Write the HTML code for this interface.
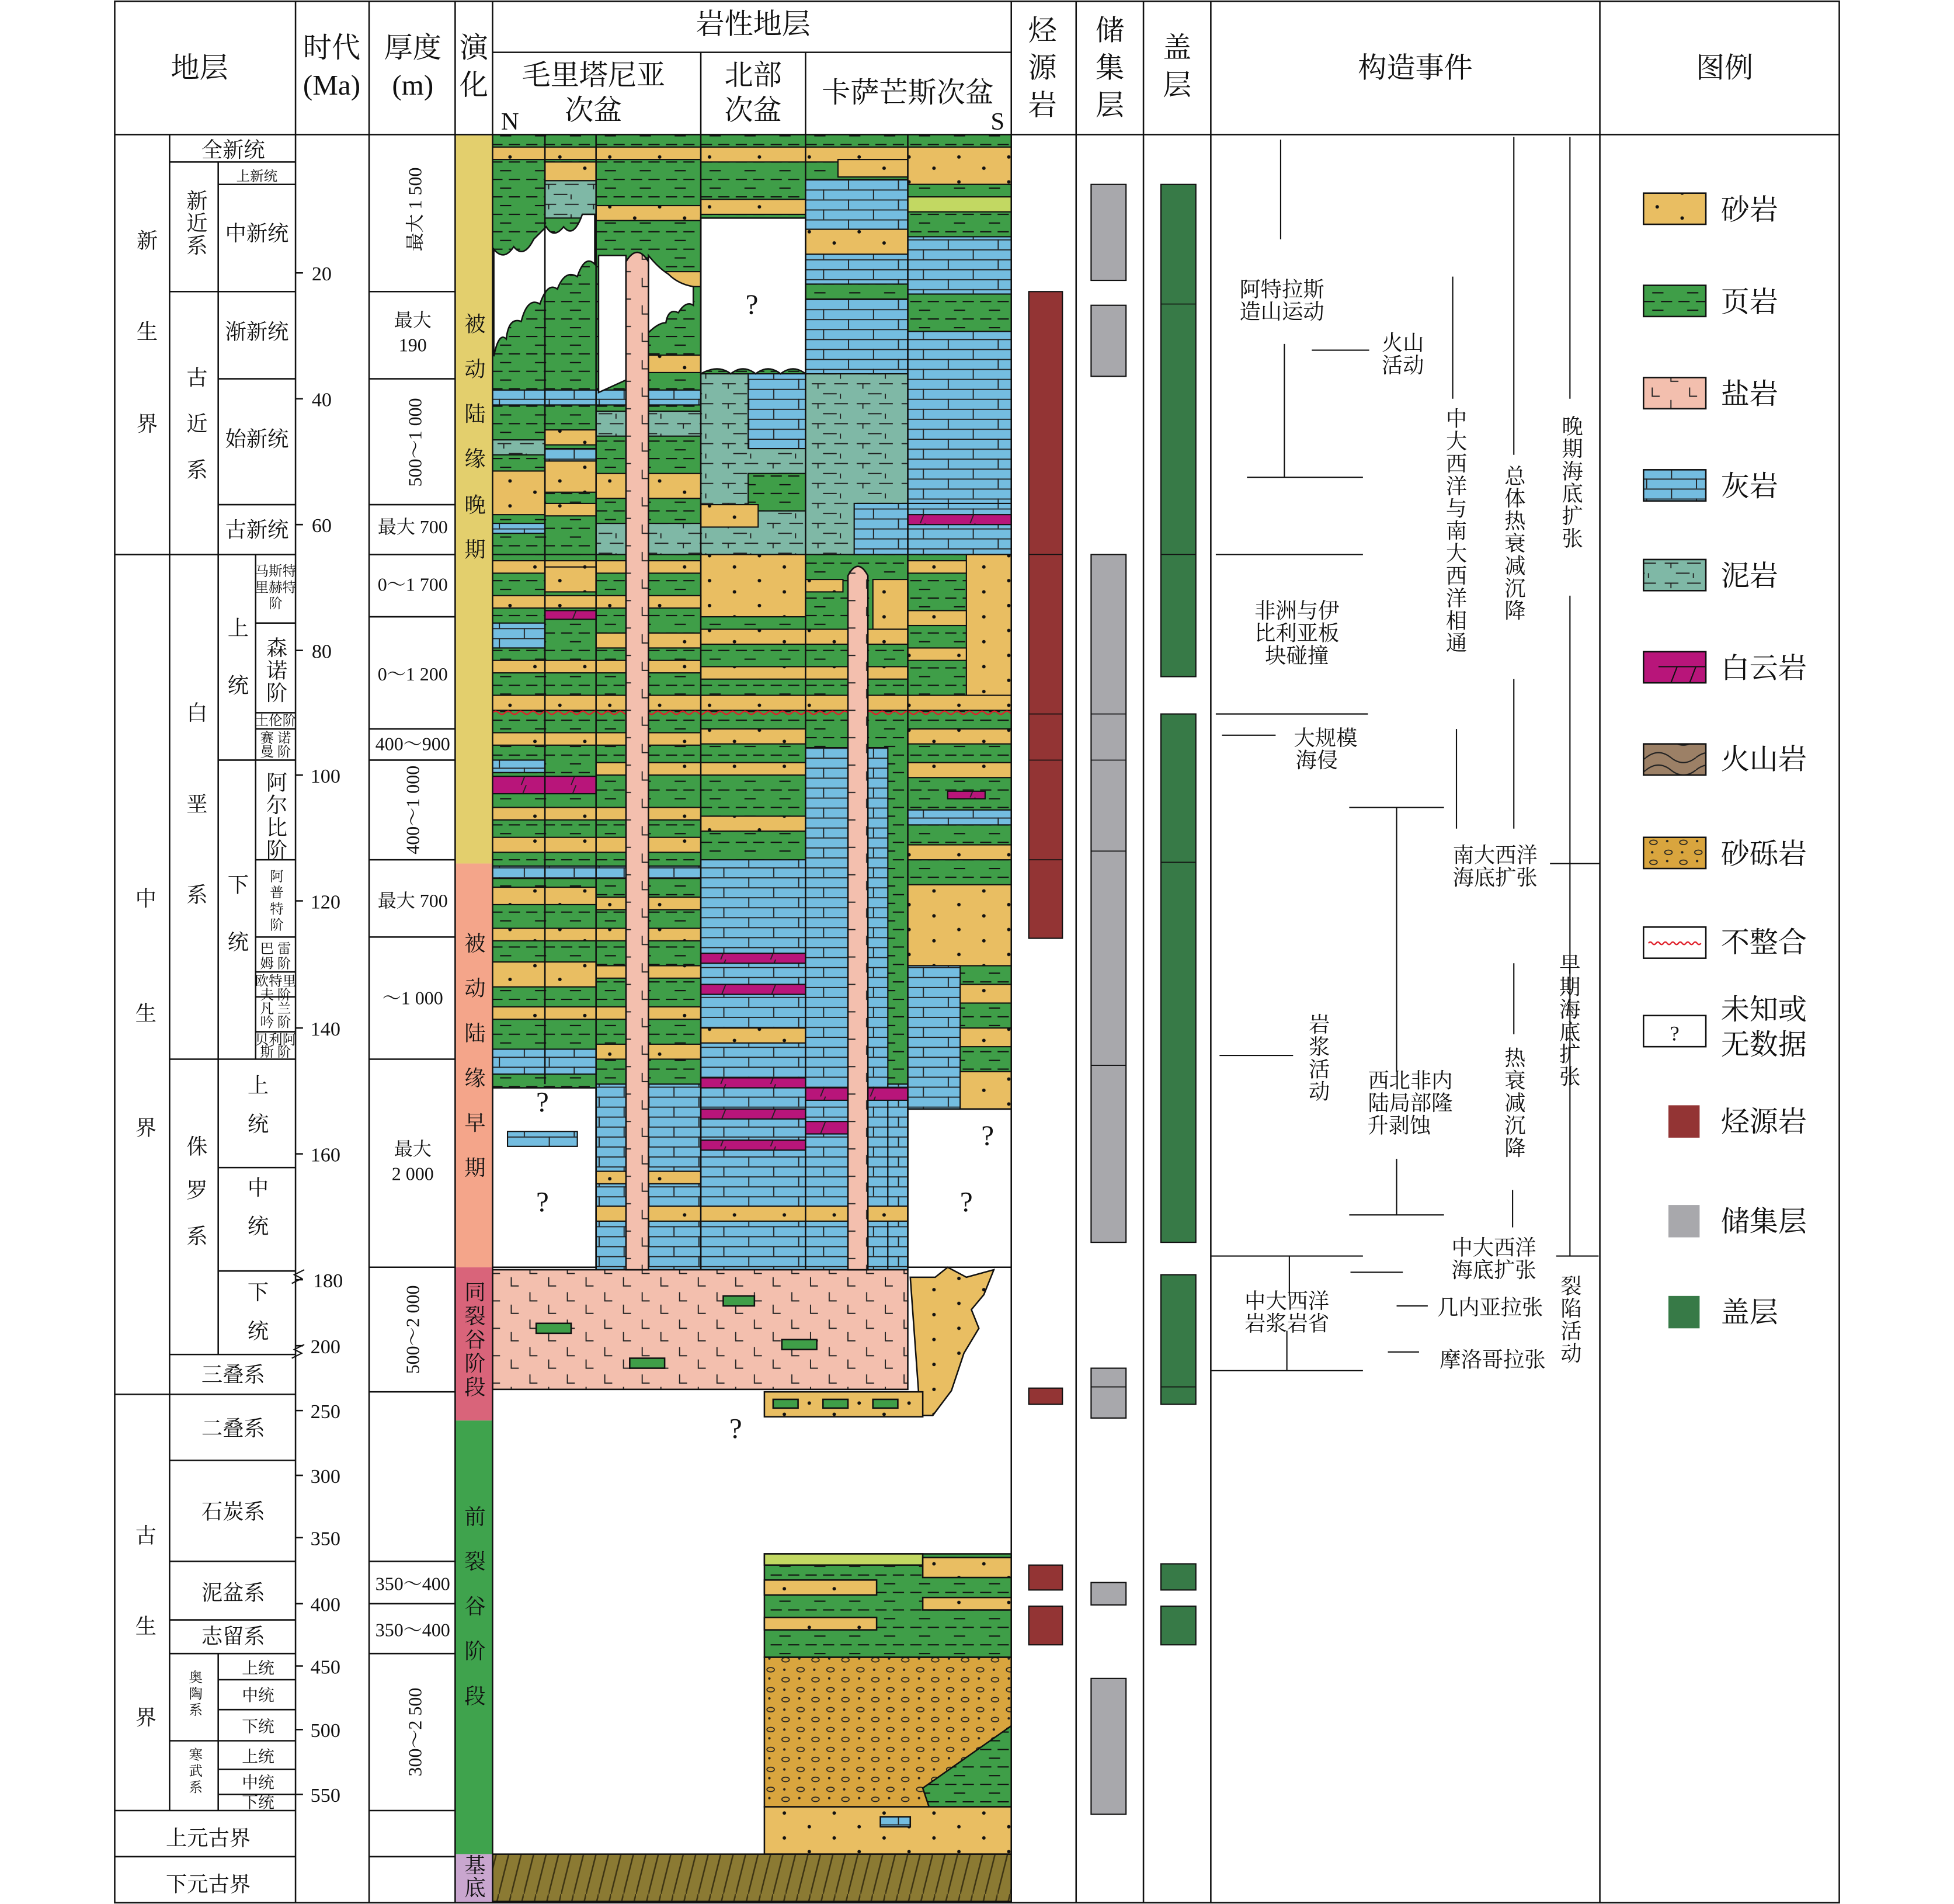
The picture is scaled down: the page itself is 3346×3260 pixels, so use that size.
<!DOCTYPE html>
<html><head><meta charset="utf-8">
<style>
html,body{margin:0;padding:0;background:#fff;}
#wrap{width:3346px;height:3260px;overflow:hidden;position:relative;}
svg{position:absolute;left:0;top:0;}
text{font-family:"Liberation Serif","Noto Serif CJK SC",serif;fill:#111;}
.h{font-size:23px;text-anchor:middle;}
.m{font-size:17px;text-anchor:middle;}
.s{font-size:15px;text-anchor:middle;}
.xs{font-size:11px;text-anchor:middle;}
.t{font-size:16px;}
.lg{font-size:23px;}
</style></head><body>
<div id="wrap">
<svg width="3346" height="3260" viewBox="0 0 1567 1528" preserveAspectRatio="none">
<defs>
<clipPath id="lc"><rect x="395" y="0" width="416" height="1528"/></clipPath>
<pattern id="sand" width="40" height="20" patternUnits="userSpaceOnUse"><rect width="40" height="20" fill="#e9be62"/><circle cx="9" cy="6" r="1.4" fill="#111"/><circle cx="29" cy="15" r="1.4" fill="#111"/></pattern>
<pattern id="shale" width="28" height="14" patternUnits="userSpaceOnUse"><rect width="28" height="14" fill="#3f9e48"/><path d="M2 4h9M16 4h9M9 11h9" stroke="#111" stroke-width="1"/></pattern>
<pattern id="lime" width="40" height="16" patternUnits="userSpaceOnUse"><rect width="40" height="16" fill="#74bde0"/><path d="M0 0.5h40M0 8.5h40M0.5 0v8M20.5 8v8" stroke="#222" stroke-width="0.9"/></pattern>
<pattern id="mud" width="36" height="16" patternUnits="userSpaceOnUse"><rect width="36" height="16" fill="#7fb8a6"/><path d="M3 4h11M21 4h11M12 12h11M8 4v4M26 12v4" stroke="#222" stroke-width="0.9"/></pattern>
<pattern id="salt" width="30" height="22" patternUnits="userSpaceOnUse"><rect width="30" height="22" fill="#f3bfae"/><path d="M5 3v7h6M20 13v7h6" stroke="#222" stroke-width="0.9" fill="none"/></pattern>
<pattern id="dol" width="40" height="10" patternUnits="userSpaceOnUse"><rect width="40" height="10" fill="#b8157a"/><path d="M18 10l4-10" stroke="#222" stroke-width="0.9"/></pattern>
<pattern id="cong" width="24" height="16" patternUnits="userSpaceOnUse"><rect width="24" height="16" fill="#d9a53e"/><ellipse cx="6" cy="4" rx="3" ry="1.8" fill="none" stroke="#222" stroke-width="0.8"/><ellipse cx="18" cy="12" rx="3" ry="1.8" fill="none" stroke="#222" stroke-width="0.8"/><circle cx="17" cy="3" r="1" fill="#222"/><circle cx="5" cy="12" r="1" fill="#222"/></pattern>
<pattern id="base" width="10" height="40" patternUnits="userSpaceOnUse"><rect width="10" height="40" fill="#8b7a33"/><path d="M0 40L10 0" stroke="#3d3414" stroke-width="1.2"/></pattern>
<pattern id="volc" width="40" height="24" patternUnits="userSpaceOnUse"><rect width="40" height="24" fill="#9c8066"/><path d="M0 8q10-8 20 0t20 0M0 18q10-8 20 0t20 0" stroke="#222" fill="none"/></pattern>
</defs>

<g stroke="#111" stroke-width="1">
<rect x="395" y="108" width="416" height="337" fill="url(#shale)"/>
<rect x="728" y="118" width="83" height="30" fill="url(#sand)"/>
<rect x="728" y="148" width="83" height="10" fill="url(#shale)"/>
<rect x="728" y="158" width="83" height="12" fill="#c2d862"/>
<rect x="728" y="190" width="83" height="255" fill="url(#lime)"/>
<rect x="728" y="236" width="83" height="30" fill="url(#shale)"/>
<rect x="728" y="404" width="83" height="10" fill="url(#lime)"/>
<rect x="728" y="413" width="83" height="8" fill="url(#dol)"/>
<rect x="646" y="118" width="82" height="12" fill="url(#sand)"/>
<rect x="672" y="128" width="56" height="14" fill="url(#sand)"/>
<rect x="646" y="144" width="82" height="156" fill="url(#lime)"/>
<rect x="646" y="184" width="82" height="20" fill="url(#sand)"/>
<rect x="646" y="228" width="82" height="12" fill="url(#shale)"/>
<rect x="646" y="300" width="82" height="145" fill="url(#mud)"/>
<rect x="685" y="404" width="43" height="41" fill="url(#lime)"/>
<rect x="562" y="118" width="84" height="12" fill="url(#sand)"/>
<rect x="562" y="160" width="84" height="12" fill="url(#sand)"/>
<rect x="562" y="300" width="84" height="145" fill="url(#mud)"/>
<rect x="600" y="300" width="46" height="60" fill="url(#lime)"/>
<rect x="600" y="380" width="46" height="30" fill="url(#shale)"/>
<rect x="562" y="405" width="46" height="18" fill="url(#sand)"/>
<rect x="395" y="118" width="167" height="10" fill="url(#sand)"/>
<rect x="437" y="130" width="41" height="15" fill="url(#sand)"/>
<rect x="437" y="145" width="41" height="30" fill="url(#mud)"/>
<rect x="478" y="165" width="84" height="12" fill="url(#sand)"/>
<rect x="437" y="195" width="41" height="10" fill="url(#sand)"/>
<rect x="520" y="218" width="42" height="12" fill="url(#sand)"/>
<rect x="520" y="285" width="42" height="14" fill="url(#sand)"/>
<rect x="395" y="313" width="167" height="12" fill="url(#lime)"/>
<rect x="478" y="330" width="84" height="20" fill="url(#mud)"/>
<rect x="437" y="345" width="41" height="12" fill="url(#sand)"/>
<rect x="395" y="353" width="42" height="12" fill="url(#mud)"/>
<rect x="437" y="360" width="41" height="10" fill="url(#lime)"/>
<rect x="395" y="378" width="42" height="35" fill="url(#sand)"/>
<rect x="437" y="370" width="41" height="25" fill="url(#sand)"/>
<rect x="478" y="380" width="84" height="20" fill="url(#sand)"/>
<rect x="437" y="404" width="41" height="10" fill="url(#sand)"/>
<rect x="395" y="420" width="42" height="8" fill="url(#lime)"/>
<rect x="478" y="420" width="84" height="25" fill="url(#mud)"/>
<rect x="395" y="445" width="416" height="428" fill="url(#shale)"/>
</g>
<g stroke="#111" stroke-width="1">
<rect x="395" y="450" width="167" height="10" fill="url(#sand)"/>
<rect x="437" y="455" width="41" height="20" fill="url(#sand)"/>
<rect x="562" y="445" width="84" height="50" fill="url(#sand)"/>
<rect x="728" y="450" width="83" height="10" fill="url(#sand)"/>
<rect x="775" y="445" width="36" height="115" fill="url(#sand)"/>
<rect x="646" y="465" width="30" height="10" fill="url(#sand)"/>
<rect x="700" y="465" width="28" height="40" fill="url(#sand)"/>
<rect x="395" y="478" width="167" height="10" fill="url(#sand)"/>
<rect x="437" y="490" width="41" height="7" fill="url(#dol)"/>
<rect x="395" y="500" width="42" height="20" fill="url(#lime)"/>
<rect x="478" y="508" width="84" height="12" fill="url(#sand)"/>
<rect x="562" y="505" width="166" height="12" fill="url(#sand)"/>
<rect x="728" y="490" width="47" height="12" fill="url(#sand)"/>
<rect x="728" y="520" width="47" height="10" fill="url(#sand)"/>
<rect x="395" y="530" width="167" height="10" fill="url(#sand)"/>
<rect x="562" y="535" width="166" height="10" fill="url(#sand)"/>
<rect x="395" y="558" width="416" height="12" fill="url(#sand)"/>
<rect x="395" y="588" width="167" height="10" fill="url(#sand)"/>
<rect x="562" y="585" width="84" height="12" fill="url(#sand)"/>
<rect x="728" y="585" width="83" height="12" fill="url(#sand)"/>
<rect x="395" y="610" width="42" height="10" fill="url(#lime)"/>
<rect x="478" y="612" width="168" height="10" fill="url(#sand)"/>
<rect x="728" y="612" width="83" height="12" fill="url(#sand)"/>
<rect x="395" y="623" width="83" height="14" fill="url(#dol)"/>
<rect x="395" y="648" width="167" height="10" fill="url(#sand)"/>
<rect x="562" y="655" width="84" height="12" fill="url(#sand)"/>
<rect x="728" y="650" width="83" height="12" fill="url(#lime)"/>
<rect x="760" y="635" width="30" height="6" fill="url(#dol)"/>
<rect x="395" y="672" width="167" height="12" fill="url(#sand)"/>
<rect x="728" y="678" width="83" height="12" fill="url(#sand)"/>
<rect x="395" y="695" width="167" height="10" fill="url(#lime)"/>
<rect x="395" y="712" width="83" height="14" fill="url(#sand)"/>
<rect x="478" y="720" width="84" height="10" fill="url(#sand)"/>
<rect x="728" y="710" width="83" height="65" fill="url(#sand)"/>
<rect x="395" y="745" width="167" height="10" fill="url(#sand)"/>
<rect x="395" y="772" width="83" height="20" fill="url(#sand)"/>
<rect x="478" y="775" width="84" height="10" fill="url(#sand)"/>
<rect x="728" y="775" width="42" height="115" fill="url(#lime)"/>
<rect x="770" y="790" width="41" height="15" fill="url(#sand)"/>
<rect x="395" y="808" width="167" height="10" fill="url(#sand)"/>
<rect x="770" y="825" width="41" height="15" fill="url(#sand)"/>
<rect x="395" y="842" width="83" height="20" fill="url(#lime)"/>
<rect x="478" y="838" width="84" height="12" fill="url(#sand)"/>
<rect x="770" y="860" width="41" height="30" fill="url(#sand)"/>
<rect x="562" y="690" width="84" height="330" fill="url(#lime)"/>
<rect x="646" y="600" width="66" height="420" fill="url(#lime)"/>
<rect x="478" y="870" width="84" height="150" fill="url(#lime)"/>
<rect x="712" y="870" width="16" height="150" fill="url(#lime)"/>
<rect x="562" y="765" width="84" height="8" fill="url(#dol)"/>
<rect x="562" y="790" width="84" height="8" fill="url(#dol)"/>
<rect x="562" y="865" width="84" height="8" fill="url(#dol)"/>
<rect x="646" y="873" width="82" height="10" fill="url(#dol)"/>
<rect x="562" y="890" width="84" height="8" fill="url(#dol)"/>
<rect x="646" y="900" width="35" height="10" fill="url(#dol)"/>
<rect x="562" y="915" width="84" height="8" fill="url(#dol)"/>
<rect x="478" y="940" width="84" height="10" fill="url(#sand)"/>
<rect x="478" y="968" width="250" height="12" fill="url(#sand)"/>
<rect x="562" y="825" width="84" height="12" fill="url(#sand)"/>
</g>
<g fill="#fff" stroke="#111" stroke-width="1.2">
<path d="M396 200 q8 10 16 -2 q8 10 16 -6 l10 -10 q6 10 14 0 q8 10 15 -10 l10 0 l0 40 q-8 -8 -14 10 q-10 -6 -16 10 q-8 -6 -14 12 q-10 -6 -15 14 q-10 -4 -12 14 q-6 -6 -10 14 z"/>
<path d="M480 205 l22 0 l0 100 l-22 10 z"/>
<path d="M520 205 q8 10 16 15 q8 8 20 10 l0 15 q-6 -4 -12 6 q-8 -4 -10 8 q-6 0 -14 8 z"/>
<path d="M562 175 l84 0 l0 125 q-10 -8 -20 0 q-10 -8 -20 0 q-10 -8 -20 0 q-10 -8 -24 0 z"/>
<rect x="395" y="873" width="83" height="144"/>
<path d="M728 890 l83 0 l0 127 l-83 0 z"/>
</g>
<rect x="407" y="908" width="56" height="12" fill="url(#lime)" stroke="#111"/>
<path clip-path="url(#lc)" d="M395 572 q2.5 -2.5 5 0 t5 0 t5 0 t5 0 t5 0 t5 0 t5 0 t5 0 t5 0 t5 0 t5 0 t5 0 t5 0 t5 0 t5 0 t5 0 t5 0 t5 0 t5 0 t5 0 t5 0 t5 0 t5 0 t5 0 t5 0 t5 0 t5 0 t5 0 t5 0 t5 0 t5 0 t5 0 t5 0 t5 0 t5 0 t5 0 t5 0 t5 0 t5 0 t5 0 t5 0 t5 0 t5 0 t5 0 t5 0 t5 0 t5 0 t5 0 t5 0 t5 0 t5 0 t5 0 t5 0 t5 0 t5 0 t5 0 t5 0 t5 0 t5 0 t5 0 t5 0 t5 0 t5 0 t5 0 t5 0 t5 0 t5 0 t5 0 t5 0 t5 0 t5 0 t5 0 t5 0 t5 0 t5 0 t5 0 t5 0 t5 0 t5 0 t5 0 t5 0 t5 0 t5 0 t5 0" stroke="#e0202a" stroke-width="1.1" fill="none"/>
<g stroke="#111" stroke-width="1.2">
<rect x="395" y="1019" width="333" height="96" fill="url(#salt)"/>
<path d="M730 1025 l20 0 l10 -8 l15 8 l22 -6 l-8 20 l-10 12 l6 15 l-12 20 l-10 30 l-15 20 l-10 0 z" fill="url(#sand)"/>
<rect x="613" y="1117" width="127" height="20" fill="url(#sand)"/>
<rect x="430" y="1062" width="28" height="8" fill="#3f9e48"/>
<rect x="505" y="1090" width="28" height="8" fill="#3f9e48"/>
<rect x="580" y="1040" width="25" height="8" fill="#3f9e48"/>
<rect x="627" y="1075" width="28" height="8" fill="#3f9e48"/>
<rect x="620" y="1123" width="20" height="7" fill="#3f9e48"/>
<rect x="660" y="1123" width="20" height="7" fill="#3f9e48"/>
<rect x="700" y="1123" width="20" height="7" fill="#3f9e48"/>
<path d="M502 1019 L502 210 Q511 195 520 210 L520 1019 Z" fill="url(#salt)"/>
<path d="M680 1019 L680 462 Q688 447 696 462 L696 1019 Z" fill="url(#salt)"/>
<rect x="613" y="1247" width="198" height="83" fill="url(#shale)"/>
<rect x="613" y="1247" width="127" height="9" fill="#c2d862"/>
<rect x="740" y="1250" width="71" height="16" fill="url(#sand)"/>
<rect x="613" y="1268" width="90" height="12" fill="url(#sand)"/>
<rect x="740" y="1282" width="71" height="10" fill="url(#sand)"/>
<rect x="613" y="1298" width="90" height="10" fill="url(#sand)"/>
<rect x="613" y="1330" width="198" height="120" fill="url(#cong)"/>
<path d="M740 1435 L811 1385 L811 1450 L745 1450 Z" fill="url(#shale)"/>
<rect x="613" y="1450" width="198" height="38" fill="url(#sand)"/>
<rect x="706" y="1458" width="24" height="8" fill="url(#lime)"/>
<rect x="395" y="1488" width="416" height="38" fill="url(#base)"/>
</g>
<g stroke="#111" stroke-width="1.2">
<line x1="478" y1="108" x2="478" y2="1019"/><line x1="562" y1="108" x2="562" y2="1019"/>
<line x1="646" y1="108" x2="646" y2="1019"/><line x1="728" y1="108" x2="728" y2="1019"/>
<line x1="437" y1="108" x2="437" y2="870"/>
</g>
<g class="h"><text x="603" y="252" class="h">?</text><text x="435" y="892" class="h">?</text><text x="435" y="972" class="h">?</text><text x="792" y="919" class="h">?</text><text x="775" y="972" class="h">?</text><text x="590" y="1154" class="h">?</text></g>

<rect x="365" y="108" width="30" height="585" fill="#e3cf6d"/>
<rect x="365" y="693" width="30" height="324" fill="#f4a58a"/>
<rect x="365" y="1017" width="30" height="123" fill="#d9647a"/>
<rect x="365" y="1140" width="30" height="348" fill="#3fa34d"/>
<rect x="365" y="1488" width="30" height="39" fill="#c9a6cf"/>
<g class="m">
<text x="381" y="266">被</text><text x="381" y="302">动</text><text x="381" y="338">陆</text><text x="381" y="374">缘</text><text x="381" y="411">晚</text><text x="381" y="447">期</text>
<text x="381" y="763">被</text><text x="381" y="799">动</text><text x="381" y="835">陆</text><text x="381" y="871">缘</text><text x="381" y="907">早</text><text x="381" y="943">期</text>
<text x="381" y="1043">同</text><text x="381" y="1062">裂</text><text x="381" y="1081">谷</text><text x="381" y="1100">阶</text><text x="381" y="1119">段</text>
<text x="381" y="1223">前</text><text x="381" y="1259">裂</text><text x="381" y="1295">谷</text><text x="381" y="1331">阶</text><text x="381" y="1367">段</text>
<text x="381" y="1503">基</text><text x="381" y="1521">底</text>
</g>

<g fill="#933434" stroke="#111">
<rect x="825" y="234" width="27" height="519"/><rect x="825" y="1114" width="27" height="13"/><rect x="825" y="1256" width="27" height="20"/><rect x="825" y="1289" width="27" height="31"/>
</g>
<g stroke="#111" stroke-width="0.8"><line x1="825" y1="445" x2="852" y2="445"/><line x1="825" y1="573" x2="852" y2="573"/><line x1="825" y1="610" x2="852" y2="610"/><line x1="825" y1="690" x2="852" y2="690"/></g>
<g fill="#a8a8ac" stroke="#111">
<rect x="875" y="148" width="28" height="77"/><rect x="875" y="245" width="28" height="57"/><rect x="875" y="445" width="28" height="552"/><rect x="875" y="1098" width="28" height="40"/><rect x="875" y="1270" width="28" height="18"/><rect x="875" y="1347" width="28" height="109"/>
</g>
<g stroke="#111" stroke-width="0.8"><line x1="875" y1="573" x2="903" y2="573"/><line x1="875" y1="610" x2="903" y2="610"/><line x1="875" y1="683" x2="903" y2="683"/><line x1="875" y1="855" x2="903" y2="855"/><line x1="875" y1="1113" x2="903" y2="1113"/></g>
<g fill="#377a47" stroke="#111">
<rect x="931" y="148" width="28" height="395"/><rect x="931" y="573" width="28" height="424"/><rect x="931" y="1023" width="28" height="104"/><rect x="931" y="1255" width="28" height="21"/><rect x="931" y="1289" width="28" height="31"/>
</g>
<g stroke="#111" stroke-width="0.8"><line x1="931" y1="244" x2="959" y2="244"/><line x1="931" y1="445" x2="959" y2="445"/><line x1="931" y1="692" x2="959" y2="692"/><line x1="931" y1="1113" x2="959" y2="1113"/></g>

<g stroke="#111" stroke-width="1.2" fill="none">
<rect x="92" y="1" width="1383" height="1526"/>
<line x1="92" y1="108" x2="1475" y2="108"/>
<line x1="237" y1="1" x2="237" y2="1527"/><line x1="296" y1="1" x2="296" y2="1527"/><line x1="365" y1="1" x2="365" y2="1527"/><line x1="395" y1="1" x2="395" y2="1527"/>
<line x1="811" y1="1" x2="811" y2="1527"/><line x1="863" y1="1" x2="863" y2="1527"/><line x1="917" y1="1" x2="917" y2="1527"/><line x1="971" y1="1" x2="971" y2="1527"/><line x1="1283" y1="1" x2="1283" y2="1527"/>
<line x1="395" y1="42" x2="811" y2="42"/><line x1="562" y1="42" x2="562" y2="108"/><line x1="646" y1="42" x2="646" y2="108"/>
<line x1="136" y1="108" x2="136" y2="1453"/>
<line x1="92" y1="445" x2="237" y2="445"/><line x1="92" y1="1119" x2="237" y2="1119"/><line x1="92" y1="1453" x2="237" y2="1453"/><line x1="92" y1="1490" x2="237" y2="1490"/>
<line x1="136" y1="130" x2="237" y2="130"/><line x1="175" y1="130" x2="175" y2="445"/>
<line x1="175" y1="148" x2="237" y2="148"/><line x1="136" y1="234" x2="237" y2="234"/><line x1="175" y1="304" x2="237" y2="304"/><line x1="175" y1="405" x2="237" y2="405"/>
<line x1="175" y1="445" x2="175" y2="1087"/><line x1="205" y1="445" x2="205" y2="850"/>
<line x1="175" y1="610" x2="237" y2="610"/><line x1="205" y1="500" x2="237" y2="500"/><line x1="205" y1="572" x2="237" y2="572"/><line x1="205" y1="585" x2="237" y2="585"/>
<line x1="205" y1="690" x2="237" y2="690"/><line x1="205" y1="752" x2="237" y2="752"/><line x1="205" y1="780" x2="237" y2="780"/><line x1="205" y1="800" x2="237" y2="800"/><line x1="205" y1="828" x2="237" y2="828"/>
<line x1="136" y1="850" x2="237" y2="850"/><line x1="175" y1="937" x2="237" y2="937"/><line x1="175" y1="1020" x2="237" y2="1020"/>
<line x1="136" y1="1087" x2="237" y2="1087"/><line x1="136" y1="1172" x2="237" y2="1172"/><line x1="136" y1="1253" x2="237" y2="1253"/><line x1="136" y1="1300" x2="237" y2="1300"/><line x1="136" y1="1327" x2="237" y2="1327"/>
<line x1="175" y1="1327" x2="175" y2="1453"/><line x1="175" y1="1348" x2="237" y2="1348"/><line x1="175" y1="1372" x2="237" y2="1372"/><line x1="136" y1="1397" x2="237" y2="1397"/><line x1="175" y1="1420" x2="237" y2="1420"/><line x1="175" y1="1440" x2="237" y2="1440"/>
<line x1="296" y1="234" x2="365" y2="234"/><line x1="296" y1="304" x2="365" y2="304"/><line x1="296" y1="405" x2="365" y2="405"/><line x1="296" y1="445" x2="365" y2="445"/><line x1="296" y1="495" x2="365" y2="495"/><line x1="296" y1="585" x2="365" y2="585"/><line x1="296" y1="610" x2="365" y2="610"/><line x1="296" y1="690" x2="365" y2="690"/><line x1="296" y1="752" x2="365" y2="752"/><line x1="296" y1="850" x2="365" y2="850"/><line x1="296" y1="1017" x2="365" y2="1017"/><line x1="296" y1="1117" x2="365" y2="1117"/><line x1="296" y1="1253" x2="365" y2="1253"/><line x1="296" y1="1287" x2="365" y2="1287"/><line x1="296" y1="1327" x2="365" y2="1327"/><line x1="296" y1="1453" x2="365" y2="1453"/><line x1="296" y1="1490" x2="365" y2="1490"/>
<path d="M237 219h6M237 320h6M237 421h6M237 522h6M237 622h6M237 723h6M237 825h6M237 926h6M237 1027h6M237 1080h6M237 1132h6M237 1184h6M237 1234h6M237 1287h6M237 1337h6M237 1388h6M237 1440h6"/>
<path d="M234 1030l8-4l-6-3l8-4M234 1090l8-4l-6-3l8-4" stroke-width="1"/>
</g>
<g class="t">
<text x="250" y="225">20</text><text x="250" y="326">40</text><text x="250" y="427">60</text><text x="250" y="528">80</text><text x="249" y="628">100</text><text x="249" y="729">120</text><text x="249" y="831">140</text><text x="249" y="932">160</text><text x="251" y="1033">180</text><text x="249" y="1086">200</text><text x="249" y="1138">250</text><text x="249" y="1190">300</text><text x="249" y="1240">350</text><text x="249" y="1293">400</text><text x="249" y="1343">450</text><text x="249" y="1394">500</text><text x="249" y="1446">550</text>
</g>

<g class="h">
<text x="160" y="62">地层</text>
<text x="266" y="46">时代</text><text x="266" y="76">(Ma)</text>
<text x="331" y="46">厚度</text><text x="331" y="76">(m)</text>
<text x="380" y="46">演</text><text x="380" y="76">化</text>
<text x="604" y="27">岩性地层</text>
<text x="476" y="68">毛里塔尼亚</text><text x="476" y="96">次盆</text>
<text x="604" y="68">北部</text><text x="604" y="96">次盆</text>
<text x="728" y="82">卡萨芒斯次盆</text>
<text x="409" y="104" style="font-size:20px">N</text><text x="800" y="104" style="font-size:20px">S</text>
<text x="836" y="32">烃</text><text x="836" y="62">源</text><text x="836" y="92">岩</text>
<text x="890" y="32">储</text><text x="890" y="62">集</text><text x="890" y="92">层</text>
<text x="944" y="46">盖</text><text x="944" y="76">层</text>
<text x="1135" y="62">构造事件</text>
<text x="1383" y="62">图例</text>
</g>

<g class="m">
<text x="118" y="199">新</text><text x="118" y="272">生</text><text x="118" y="346">界</text>
<text x="117" y="727">中</text><text x="117" y="819">生</text><text x="117" y="911">界</text>
<text x="117" y="1238">古</text><text x="117" y="1311">生</text><text x="117" y="1384">界</text>
<text x="187" y="126">全新统</text>
<text x="158" y="167">新</text><text x="158" y="185">近</text><text x="158" y="203">系</text>
<text x="158" y="309">古</text><text x="158" y="346">近</text><text x="158" y="383">系</text>
<text x="158" y="578">白</text><text x="158" y="651">垩</text><text x="158" y="724">系</text>
<text x="158" y="926">侏</text><text x="158" y="961">罗</text><text x="158" y="998">系</text>
<text x="206" y="193">中新统</text><text x="206" y="272">渐新统</text><text x="206" y="358">始新统</text><text x="206" y="431">古新统</text>
<text x="191" y="510">上</text><text x="191" y="556">统</text><text x="191" y="716">下</text><text x="191" y="762">统</text>
<text x="207" y="877">上</text><text x="207" y="908">统</text><text x="207" y="959">中</text><text x="207" y="990">统</text><text x="207" y="1043">下</text><text x="207" y="1074">统</text>
<text x="187" y="1109">三叠系</text><text x="187" y="1152">二叠系</text><text x="187" y="1219">石炭系</text><text x="187" y="1284">泥盆系</text><text x="187" y="1319">志留系</text>
<text x="167" y="1481">上元古界</text><text x="167" y="1518">下元古界</text>
<text x="222" y="526">森</text><text x="222" y="544">诺</text><text x="222" y="562">阶</text>
<text x="222" y="634">阿</text><text x="222" y="652">尔</text><text x="222" y="670">比</text><text x="222" y="688">阶</text>
</g>
<g class="xs">
<text x="206" y="145">上新统</text>
<text x="221" y="462">马斯特</text><text x="221" y="475">里赫特</text><text x="221" y="488">阶</text>
<text x="221" y="582">土伦阶</text><text x="221" y="596">赛 诺</text><text x="221" y="607">曼 阶</text>
<text x="222" y="707">阿</text><text x="222" y="720">普</text><text x="222" y="733">特</text><text x="222" y="746">阶</text>
<text x="221" y="765">巴 雷</text><text x="221" y="777">姆 阶</text>
<text x="221" y="791">欧特里</text><text x="221" y="802">夫 阶</text>
<text x="221" y="813">凡 兰</text><text x="221" y="824">吟 阶</text>
<text x="221" y="838">贝利阿</text><text x="221" y="848">斯 阶</text>
<text x="157" y="1350">奥</text><text x="157" y="1363">陶</text><text x="157" y="1376">系</text>
<text x="157" y="1412">寒</text><text x="157" y="1425">武</text><text x="157" y="1438">系</text>
</g>
<g class="s" style="font-size:13px">
<text x="207" y="1343">上统</text><text x="207" y="1365">中统</text><text x="207" y="1390">下统</text><text x="207" y="1414">上统</text><text x="207" y="1435">中统</text><text x="207" y="1451">下统</text>
</g>

<g class="s">
<text transform="translate(338,168) rotate(-90)">最大 1 500</text>
<text x="331" y="262">最大</text><text x="331" y="282">190</text>
<text transform="translate(338,355) rotate(-90)">500～1 000</text>
<text x="331" y="428">最大 700</text>
<text x="331" y="474">0～1 700</text>
<text x="331" y="546">0～1 200</text>
<text x="331" y="602">400～900</text>
<text transform="translate(336,650) rotate(-90)">400～1 000</text>
<text x="331" y="728">最大 700</text>
<text x="331" y="806">～1 000</text>
<text x="331" y="927">最大</text><text x="331" y="947">2 000</text>
<text transform="translate(336,1067) rotate(-90)">500～2 000</text>
<text x="331" y="1276">350～400</text>
<text x="331" y="1313">350～400</text>
<text transform="translate(338,1390) rotate(-90)">300～2 500</text>
</g>

<g stroke="#111" stroke-width="1" fill="none">
<path d="M1027 112V192M1030 276V383M1000 383H1093M975 445H1093M1052 281H1098"/>
<path d="M975 573H1097M980 590H1023"/>
<path d="M1165 222V320M1168 585V665M1214 110V365M1214 545V665M1259 110V320M1259 478V1008M1243 693H1283M1248 1008H1282"/>
<path d="M1082 648H1158M1120 648V860M1120 930V975M1082 975H1158M978 847H1037"/>
<path d="M1214 773V830M1213 955V985"/>
<path d="M971 1008H1093M1034 1008V1040M1083 1021H1125M1032 1068V1100M971 1100H1093M1120 1048H1145M1113 1085H1138"/>
</g>
<g class="m">
<text x="1028" y="238">阿特拉斯</text><text x="1028" y="256">造山运动</text>
<text x="1125" y="281">火山</text><text x="1125" y="299">活动</text>
<text x="1040" y="496">非洲与伊</text><text x="1040" y="514">比利亚板</text><text x="1040" y="532">块碰撞</text>
<text x="1063" y="598">大规模</text><text x="1056" y="616">海侵</text>
<text x="1199" y="692">南大西洋</text><text x="1199" y="710">海底扩张</text>
<text x="1131" y="873">西北非内</text><text x="1131" y="891">陆局部隆</text><text x="1122" y="909">升剥蚀</text>
<text x="1198" y="1007">中大西洋</text><text x="1198" y="1025">海底扩张</text>
<text x="1032" y="1050">中大西洋</text><text x="1032" y="1068">岩浆岩省</text>
<text x="1195" y="1055">几内亚拉张</text>
<text x="1197" y="1097">摩洛哥拉张</text>
</g>
<g class="m">
<text x="1168" y="342">中</text><text x="1168" y="360">大</text><text x="1168" y="378">西</text><text x="1168" y="396">洋</text><text x="1168" y="414">与</text><text x="1168" y="432">南</text><text x="1168" y="450">大</text><text x="1168" y="468">西</text><text x="1168" y="486">洋</text><text x="1168" y="504">相</text><text x="1168" y="522">通</text>
<text x="1215" y="388">总</text><text x="1215" y="406">体</text><text x="1215" y="424">热</text><text x="1215" y="442">衰</text><text x="1215" y="460">减</text><text x="1215" y="478">沉</text><text x="1215" y="496">降</text>
<text x="1261" y="348">晚</text><text x="1261" y="366">期</text><text x="1261" y="384">海</text><text x="1261" y="402">底</text><text x="1261" y="420">扩</text><text x="1261" y="438">张</text>
<text x="1058" y="828">岩</text><text x="1058" y="846">浆</text><text x="1058" y="864">活</text><text x="1058" y="882">动</text>
<text x="1215" y="855">热</text><text x="1215" y="873">衰</text><text x="1215" y="891">减</text><text x="1215" y="909">沉</text><text x="1215" y="927">降</text>
<text x="1259" y="780">早</text><text x="1259" y="798">期</text><text x="1259" y="816">海</text><text x="1259" y="834">底</text><text x="1259" y="852">扩</text><text x="1259" y="870">张</text>
<text x="1260" y="1038">裂</text><text x="1260" y="1056">陷</text><text x="1260" y="1074">活</text><text x="1260" y="1092">动</text>
</g>

<g stroke="#111" stroke-width="1.2">
<rect x="1318" y="155" width="50" height="25" fill="url(#sand)"/>
<rect x="1318" y="229" width="50" height="25" fill="url(#shale)"/>
<rect x="1318" y="303" width="50" height="25" fill="url(#salt)"/>
<rect x="1318" y="377" width="50" height="25" fill="url(#lime)"/>
<rect x="1318" y="449" width="50" height="25" fill="url(#mud)"/>
<rect x="1318" y="523" width="50" height="25" fill="#b8157a"/>
<rect x="1318" y="597" width="50" height="25" fill="url(#volc)"/>
<rect x="1318" y="672" width="50" height="25" fill="url(#cong)"/>
<rect x="1318" y="744" width="50" height="25" fill="#fff"/>
<rect x="1318" y="815" width="50" height="25" fill="#fff"/>
<rect x="1338" y="887" width="25" height="26" fill="#933434" stroke="none"/>
<rect x="1338" y="967" width="25" height="26" fill="#a8a8ac" stroke="none"/>
<rect x="1338" y="1040" width="25" height="26" fill="#377a47" stroke="none"/>
</g>
<path d="M1330 535h38M1340 548l5-13M1355 548l5-13" stroke="#111"/>
<path d="M1322 757q1.5-2 3 0t3 0t3 0t3 0t3 0t3 0t3 0t3 0t3 0t3 0t3 0t3 0t3 0t3 0" stroke="#e0202a" fill="none" stroke-width="1.1"/>
<text x="1343" y="835" class="m">?</text>
<g class="lg">
<text x="1380" y="176">砂岩</text><text x="1380" y="250">页岩</text><text x="1380" y="324">盐岩</text><text x="1380" y="398">灰岩</text><text x="1380" y="470">泥岩</text><text x="1380" y="544">白云岩</text><text x="1380" y="617">火山岩</text><text x="1380" y="693">砂砾岩</text><text x="1380" y="764">不整合</text><text x="1380" y="818">未知或</text><text x="1380" y="846">无数据</text><text x="1380" y="908">烃源岩</text><text x="1380" y="988">储集层</text><text x="1380" y="1061">盖层</text>
</g>
</svg>
</div>
</body></html>
